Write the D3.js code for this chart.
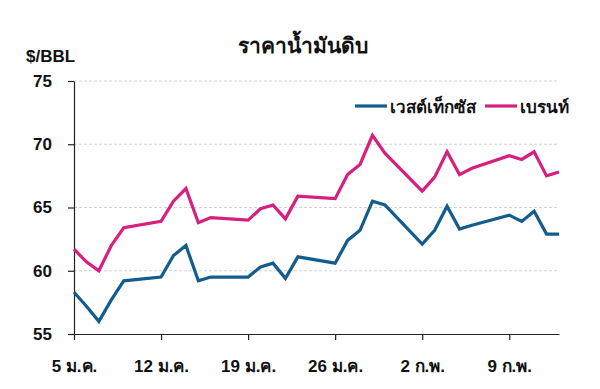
<!DOCTYPE html>
<html>
<head>
<meta charset="utf-8">
<script src="https://cdn.jsdelivr.net/npm/d3@7"></script>
<style>
  body { margin: 0; background: #fff; }
  svg text { font-family: "Liberation Sans", Arial, "Noto Sans", sans-serif; font-weight: bold; fill: #111; }
</style>
</head>
<body>
<div id="chart"></div>
<script>
// trading days, Jan 5 - Feb 13
const dates = ["2026-01-05","2026-01-06","2026-01-07","2026-01-08","2026-01-09",
  "2026-01-12","2026-01-13","2026-01-14","2026-01-15","2026-01-16",
  "2026-01-19","2026-01-20","2026-01-21","2026-01-22","2026-01-23",
  "2026-01-26","2026-01-27","2026-01-28","2026-01-29","2026-01-30",
  "2026-02-02","2026-02-03","2026-02-04","2026-02-05","2026-02-06",
  "2026-02-09","2026-02-10","2026-02-11","2026-02-12","2026-02-13"];
const wti = [58.3,57.2,56.0,57.7,59.2, 59.5,61.2,62.0,59.2,59.5,
  59.5,60.3,60.6,59.4,61.1, 60.6,62.4,63.2,65.5,65.2,
  62.1,63.2,65.1,63.3,63.6, 64.4,63.9,64.7,62.9,62.9];
const brent = [61.7,60.7,60.0,62.0,63.4, 63.9,65.5,66.5,63.8,64.2,
  64.0,64.9,65.2,64.1,65.9, 65.7,67.6,68.4,70.7,69.3,
  66.3,67.4,69.4,67.6,68.1, 69.1,68.8,69.4,67.5,67.8];
const seriesNames = ["เวสต์เท็กซัส", "เบรนท์"];
const seriesColors = ["#135c8d", "#d61f7f"];
const xTickDates = ["2026-01-05","2026-01-12","2026-01-19","2026-01-26","2026-02-02","2026-02-09"];
const xTickLabels = ["5 ม.ค.","12 ม.ค.","19 ม.ค.","26 ม.ค.","2 ก.พ.","9 ก.พ."];
const yTicks = [55, 60, 65, 70, 75];

const W = 600, H = 389;
const margin = {top: 81, right: 41, bottom: 55, left: 74};
const parse = d3.timeParse("%Y-%m-%d");

const svg = d3.select("#chart").append("svg")
  .attr("width", W)
  .attr("height", H);

const x = d3.scaleTime()
  .domain([parse(dates[0]), parse(dates[dates.length - 1])])
  .range([margin.left, W - margin.right]);
const y = d3.scaleLinear()
  .domain([55, 75])
  .range([H - margin.bottom, margin.top]);

// gridlines
svg.append("g")
  .selectAll("line")
  .data(yTicks.slice(1))
  .enter().append("line")
  .attr("x1", margin.left)
  .attr("x2", W - margin.right)
  .attr("y1", d => y(d))
  .attr("y2", d => y(d))
  .attr("stroke", "#d2d2d2")
  .attr("stroke-width", 1)
  .attr("stroke-dasharray", "3,2");

// y axis
const yAxis = svg.append("g")
  .attr("transform", `translate(${margin.left},0)`)
  .call(d3.axisLeft(y).tickValues(yTicks).tickSize(6).tickSizeOuter(0).tickPadding(16));
yAxis.selectAll("text").attr("font-size", 17).attr("font-family", null);

// x axis
const xAxis = svg.append("g")
  .attr("transform", `translate(0,${H - margin.bottom})`)
  .call(d3.axisBottom(x)
    .tickValues(xTickDates.map(parse))
    .tickFormat((d, i) => xTickLabels[i])
    .tickSize(6).tickSizeOuter(0).tickPadding(20));
xAxis.selectAll("text").attr("font-size", 17).attr("font-family", null);

svg.selectAll(".domain, .tick line").attr("stroke", "#222").attr("stroke-width", 1.2);

// lines
const line = d3.line()
  .x((d, i) => x(parse(dates[i])))
  .y(d => y(d));

[wti, brent].forEach(function(vals, k) {
  svg.append("path")
    .datum(vals)
    .attr("fill", "none")
    .attr("stroke", seriesColors[k])
    .attr("stroke-width", 3.2)
    .attr("stroke-linejoin", "miter")
    .attr("d", line);
});

// title + unit
svg.append("text")
  .attr("x", 303)
  .attr("y", 53)
  .attr("text-anchor", "middle")
  .attr("font-size", 21)
  .text("ราคาน้ำมันดิบ");

svg.append("text")
  .attr("x", 26)
  .attr("y", 62)
  .attr("font-size", 17)
  .text("$/BBL");

// legend
const legendX = [355, 485];
const legend = svg.selectAll(".legend")
  .data(seriesNames)
  .enter().append("g")
  .attr("class", "legend")
  .attr("transform", (d, i) => `translate(${legendX[i]},106)`);
legend.append("line")
  .attr("x1", 0).attr("x2", 32)
  .attr("stroke", (d, i) => seriesColors[i])
  .attr("stroke-width", 3.2);
legend.append("text")
  .attr("x", 35)
  .attr("y", 7)
  .attr("font-size", 17)
  .text(d => d);
</script>
</body>
</html>
